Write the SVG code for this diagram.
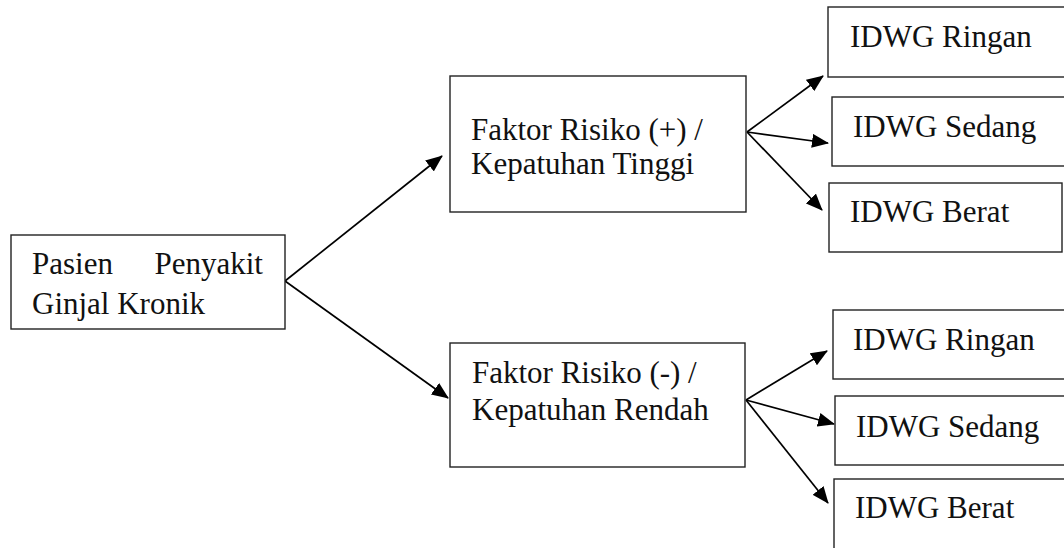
<svg xmlns="http://www.w3.org/2000/svg" width="1064" height="548" viewBox="0 0 1064 548">
  <style>
    .box { fill: #fff; stroke: #222; stroke-width: 1.4; }
    .lbl { font-family: "Liberation Serif", "Times New Roman", serif; font-size: 31px; fill: #111; }
    .edge { stroke: #000; stroke-width: 1.7; fill: none; marker-end: url(#arrow); }
  </style>
  <defs>
    <marker id="arrow" viewBox="0 0 17 14" refX="16" refY="7" markerWidth="17" markerHeight="14" markerUnits="userSpaceOnUse" orient="auto">
      <path d="M0,0 L17,7 L0,14 z" fill="#000"/>
    </marker>
  </defs>

  <rect width="1064" height="548" fill="#fff"/>

  <!-- connectors -->
  <g id="connectors">
    <line class="edge" x1="285" y1="281" x2="442" y2="156"/>
    <line class="edge" x1="285" y1="281" x2="448" y2="398"/>
    <line class="edge" x1="747" y1="132" x2="823" y2="76"/>
    <line class="edge" x1="747" y1="132" x2="828" y2="143"/>
    <line class="edge" x1="747" y1="132" x2="822" y2="210"/>
    <line class="edge" x1="746" y1="400" x2="827" y2="351"/>
    <line class="edge" x1="746" y1="400" x2="834" y2="424"/>
    <line class="edge" x1="746" y1="400" x2="828" y2="503"/>
  </g>

  <!-- root node -->
  <g id="pasien">
    <rect class="box" x="11" y="235" width="274" height="94"/>
    <text class="lbl" x="32" y="274">Pasien</text>
    <text class="lbl" x="263" y="274" text-anchor="end">Penyakit</text>
    <text class="lbl" x="32" y="314">Ginjal Kronik</text>
  </g>

  <!-- branch nodes -->
  <g id="faktor-positif">
    <rect class="box" x="450" y="76" width="296" height="136"/>
    <text class="lbl" x="471" y="140">Faktor Risiko (+) /</text>
    <text class="lbl" x="471" y="174">Kepatuhan Tinggi</text>
  </g>
  <g id="faktor-negatif">
    <rect class="box" x="450" y="343" width="295" height="124"/>
    <text class="lbl" x="472" y="383">Faktor Risiko (-) /</text>
    <text class="lbl" x="472" y="420">Kepatuhan Rendah</text>
  </g>

  <!-- outcome nodes, upper branch -->
  <g id="tinggi-ringan">
    <rect class="box" x="828" y="7" width="250" height="70"/>
    <text class="lbl" x="850" y="47">IDWG Ringan</text>
  </g>
  <g id="tinggi-sedang">
    <rect class="box" x="832" y="97" width="250" height="69"/>
    <text class="lbl" x="853" y="137">IDWG Sedang</text>
  </g>
  <g id="tinggi-berat">
    <rect class="box" x="829" y="183" width="233" height="69"/>
    <text class="lbl" x="850" y="222">IDWG Berat</text>
  </g>

  <!-- outcome nodes, lower branch -->
  <g id="rendah-ringan">
    <rect class="box" x="833" y="310" width="250" height="69"/>
    <text class="lbl" x="853" y="350">IDWG Ringan</text>
  </g>
  <g id="rendah-sedang">
    <rect class="box" x="835" y="396" width="250" height="69"/>
    <text class="lbl" x="856" y="437">IDWG Sedang</text>
  </g>
  <g id="rendah-berat">
    <rect class="box" x="834" y="479" width="250" height="100"/>
    <text class="lbl" x="855" y="518">IDWG Berat</text>
  </g>
</svg>
